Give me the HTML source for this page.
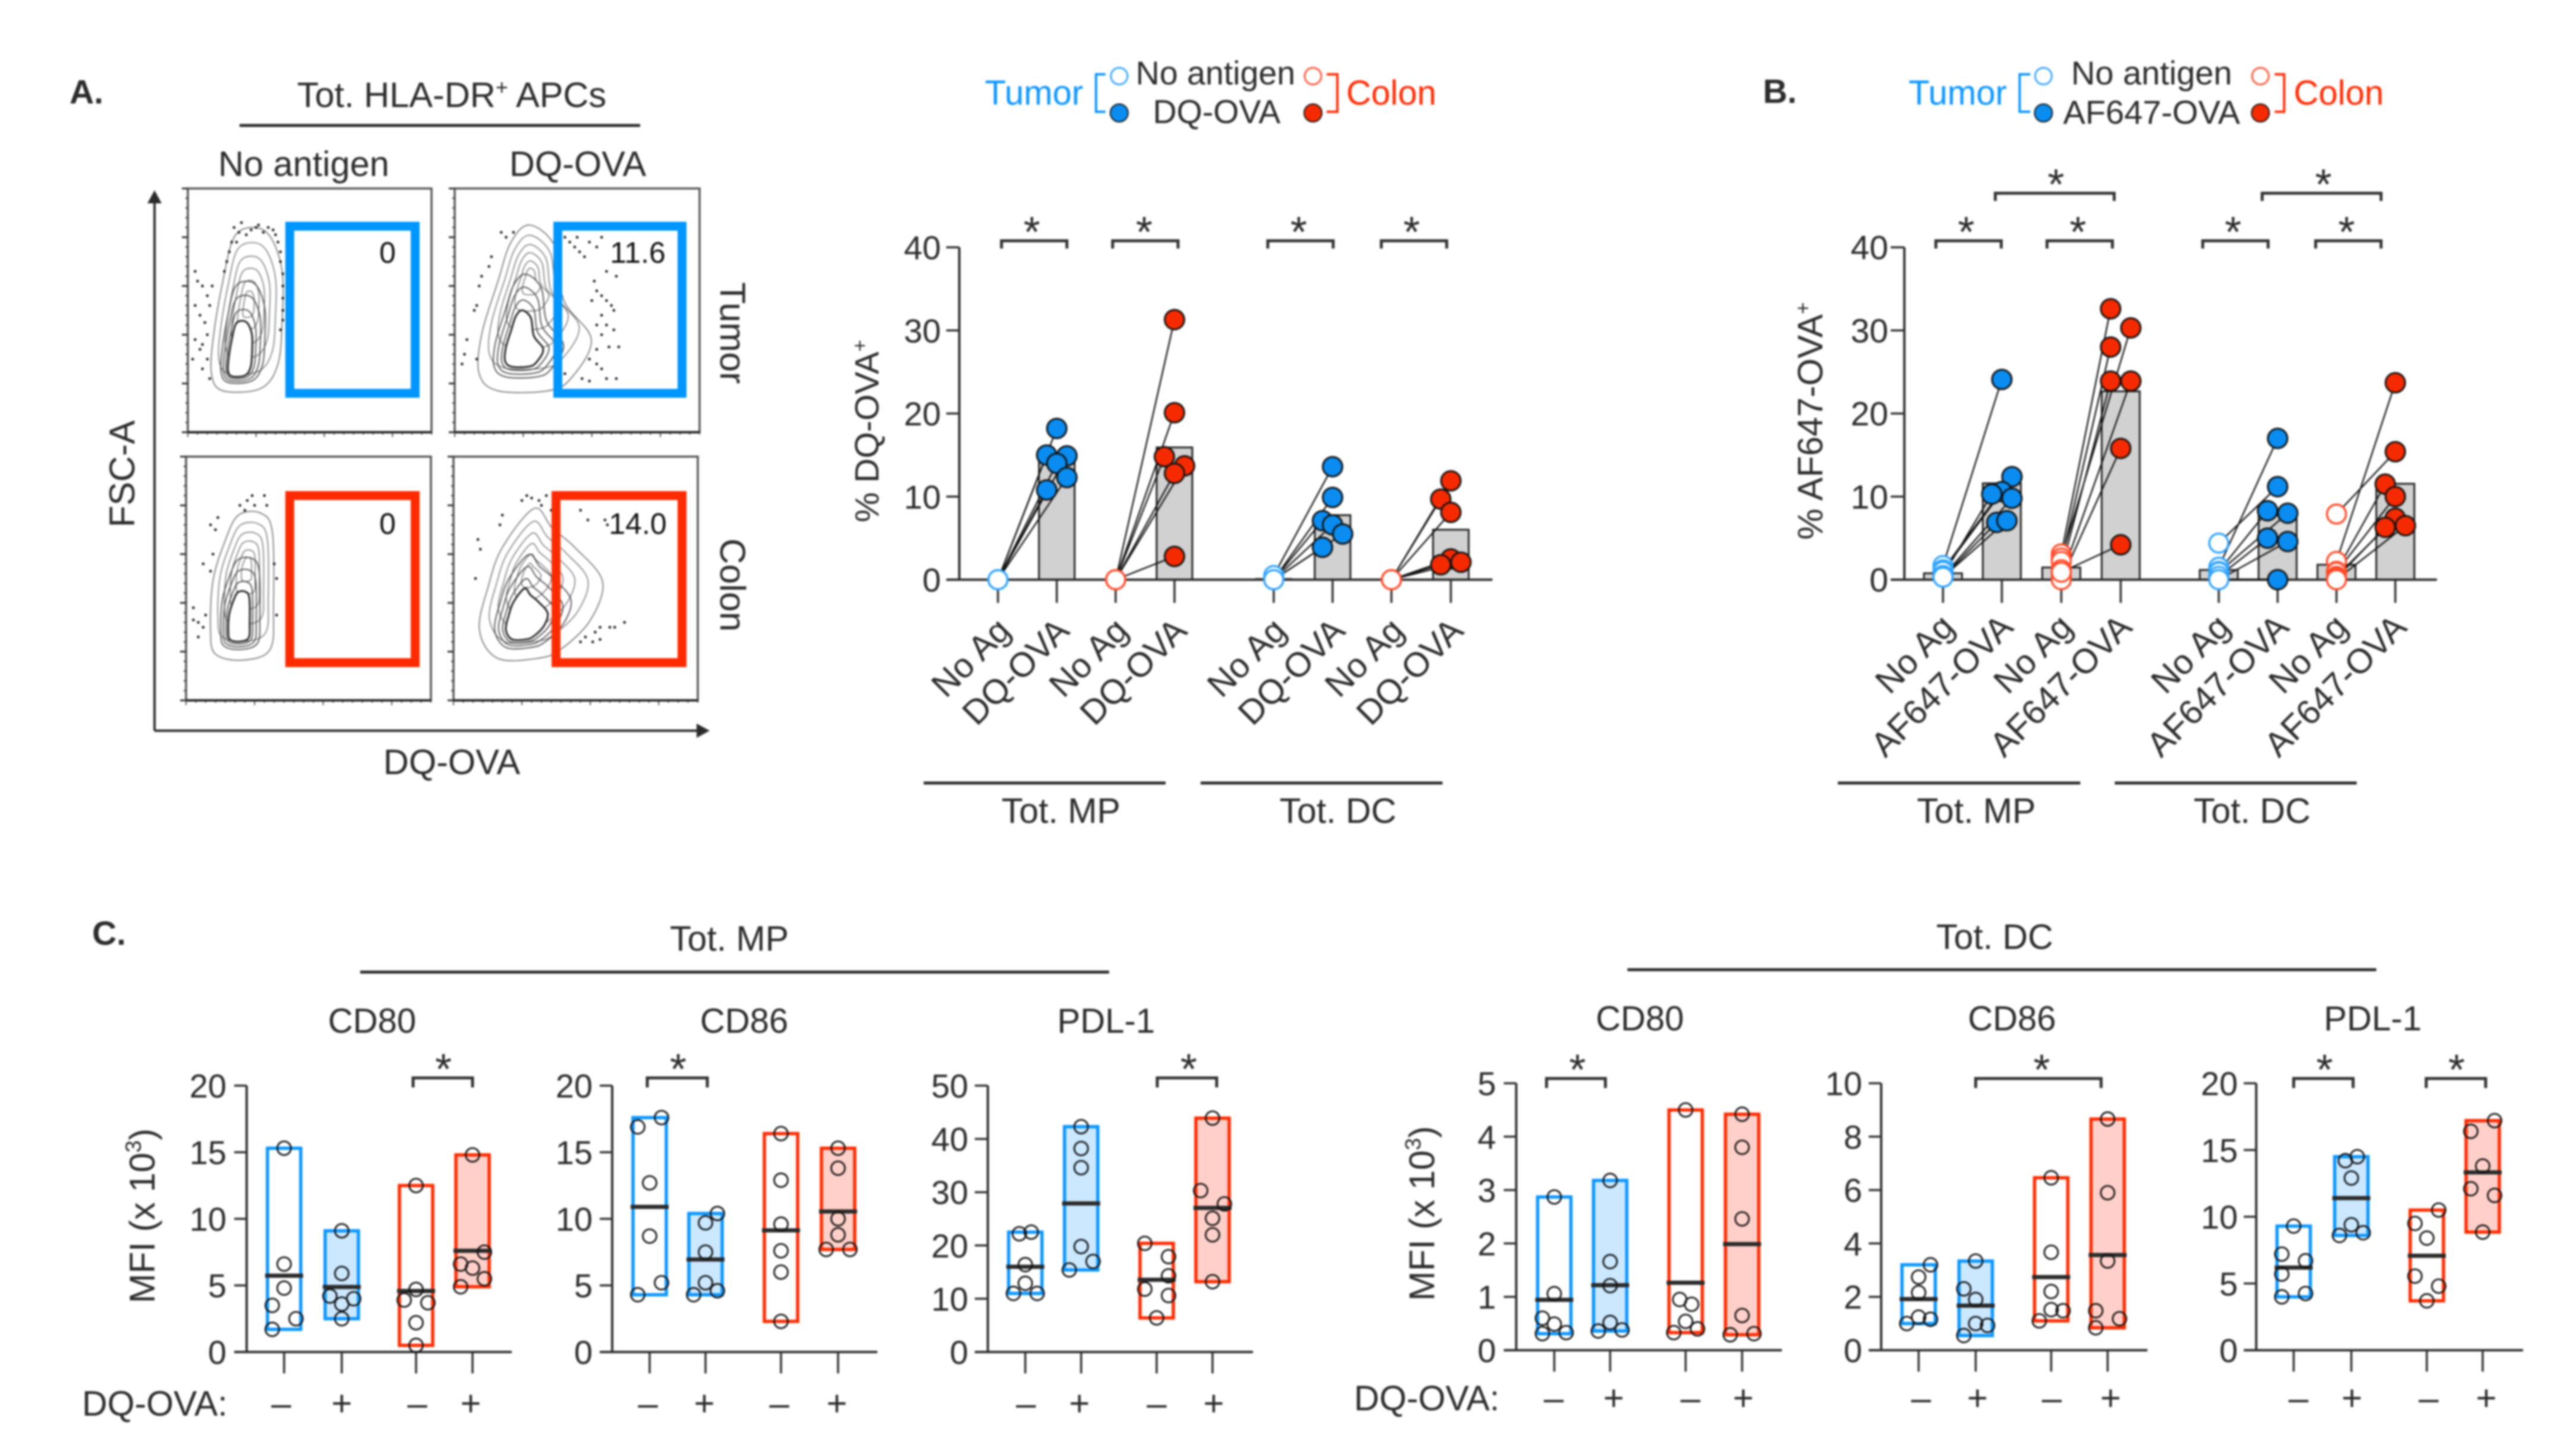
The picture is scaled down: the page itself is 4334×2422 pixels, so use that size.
<!DOCTYPE html>
<html lang="en">
<head>
<meta charset="utf-8">
<title>DQ-OVA and AF647-OVA uptake in tumor and colon APCs</title>
<style>
html,body{margin:0;padding:0;background:#fff;width:4334px;height:2422px;overflow:hidden}
svg{position:absolute;left:0;top:0;filter:blur(1.5px)}
text{font-family:"Liberation Sans",sans-serif;fill:#2b2b2b}
</style>
</head>
<body>
<svg id="figure" xmlns="http://www.w3.org/2000/svg" width="4334" height="2422" viewBox="0 0 4334 2422">
  <rect x="0" y="0" width="4334" height="2422" fill="#fff"/>

  <text x="117" y="174" font-size="57" font-weight="bold">A.</text>
  <text x="2966" y="173" font-size="57" font-weight="bold">B.</text>
  <text x="155" y="1589" font-size="57" font-weight="bold">C.</text>

  <text x="760" y="180" font-size="59.5" text-anchor="middle">Tot. HLA-DR<tspan font-size="36" dy="-21">+</tspan><tspan dy="21"> APCs</tspan></text>
  <line x1="403" y1="211" x2="1077" y2="211" stroke="#2b2b2b" stroke-width="5"/>
  <text x="511" y="296" font-size="59.5" text-anchor="middle">No antigen</text>
  <text x="972" y="296" font-size="59.5" text-anchor="middle">DQ-OVA</text>
  <text transform="translate(1212 560) rotate(90)" font-size="60" text-anchor="middle">Tumor</text>
  <text transform="translate(1212 984) rotate(90)" font-size="60" text-anchor="middle">Colon</text>
  <text transform="translate(226 797) rotate(-90)" font-size="60" text-anchor="middle">FSC-A</text>
  <text x="760" y="1302" font-size="59.5" text-anchor="middle">DQ-OVA</text>
  <path d="M260 1229V330" stroke="#2b2b2b" stroke-width="4" fill="none"/>
  <path d="M260 320L248 342H272Z" fill="#2b2b2b"/>
  <path d="M260 1229H1180" stroke="#2b2b2b" stroke-width="4" fill="none"/>
  <path d="M1194 1229L1172 1217V1241Z" fill="#2b2b2b"/>

  <g>
    <text x="1657" y="176" font-size="58" style="fill:#0a96ff">Tumor</text>
    <path d="M1860 125H1844V188H1860" fill="none" stroke="#0a96ff" stroke-width="4"/>
    <circle cx="1883" cy="128" r="14" fill="#fff" stroke="#3aa9ff" stroke-width="3"/>
    <circle cx="1883" cy="190" r="15" fill="#0a8cf0" stroke="#111" stroke-width="2"/>
    <text x="2045" y="142" font-size="55.5" text-anchor="middle">No antigen</text>
    <text x="2047" y="207" font-size="55.5" text-anchor="middle">DQ-OVA</text>
    <circle cx="2209" cy="128" r="14" fill="#fff" stroke="#ff5a3c" stroke-width="3"/>
    <circle cx="2209" cy="190" r="15" fill="#f52a00" stroke="#111" stroke-width="2"/>
    <path d="M2232 125H2250V188H2232" fill="none" stroke="#ff2a00" stroke-width="4"/>
    <text x="2265" y="176" font-size="58" style="fill:#ff2a00">Colon</text>
  </g>

  <g>
    <text x="3211" y="176" font-size="58" style="fill:#0a96ff">Tumor</text>
    <path d="M3416 125H3398V188H3416" fill="none" stroke="#0a96ff" stroke-width="4"/>
    <circle cx="3438" cy="128" r="14" fill="#fff" stroke="#3aa9ff" stroke-width="3"/>
    <circle cx="3438" cy="190" r="15" fill="#0a8cf0" stroke="#111" stroke-width="2"/>
    <text x="3620" y="142" font-size="56" text-anchor="middle">No antigen</text>
    <text x="3620" y="208" font-size="56" text-anchor="middle">AF647-OVA</text>
    <circle cx="3803" cy="128" r="14" fill="#fff" stroke="#ff5a3c" stroke-width="3"/>
    <circle cx="3803" cy="190" r="15" fill="#f52a00" stroke="#111" stroke-width="2"/>
    <path d="M3827 125H3843V188H3827" fill="none" stroke="#ff2a00" stroke-width="4"/>
    <text x="3859" y="176" font-size="58" style="fill:#ff2a00">Colon</text>
  </g>

  <text transform="translate(1478 725) rotate(-90)" font-size="57" text-anchor="middle">% DQ-OVA<tspan font-size="34" dy="-20">+</tspan></text>
  <text transform="translate(3066 708) rotate(-90)" font-size="59" text-anchor="middle">% AF647-OVA<tspan font-size="35" dy="-21">+</tspan></text>

  <line x1="1554" y1="1317" x2="1961" y2="1317" stroke="#2b2b2b" stroke-width="5"/>
  <line x1="2020" y1="1317" x2="2427" y2="1317" stroke="#2b2b2b" stroke-width="5"/>
  <text x="1785" y="1384" font-size="59" text-anchor="middle">Tot. MP</text>
  <text x="2251" y="1384" font-size="59" text-anchor="middle">Tot. DC</text>
  <line x1="3092" y1="1317" x2="3500" y2="1317" stroke="#2b2b2b" stroke-width="5"/>
  <line x1="3558" y1="1317" x2="3965" y2="1317" stroke="#2b2b2b" stroke-width="5"/>
  <text x="3325" y="1384" font-size="59" text-anchor="middle">Tot. MP</text>
  <text x="3789" y="1384" font-size="59" text-anchor="middle">Tot. DC</text>

  <text x="1227" y="1599" font-size="59" text-anchor="middle">Tot. MP</text>
  <line x1="606" y1="1635" x2="1866" y2="1635" stroke="#2b2b2b" stroke-width="5"/>
  <text x="3356" y="1596" font-size="59" text-anchor="middle">Tot. DC</text>
  <line x1="2738" y1="1631" x2="3998" y2="1631" stroke="#2b2b2b" stroke-width="5"/>
  <text transform="translate(260 2045) rotate(-90)" font-size="60" text-anchor="middle">MFI (x 10<tspan font-size="37" dy="-23">3</tspan><tspan dy="23">)</tspan></text>
  <text transform="translate(2413 2041) rotate(-90)" font-size="60" text-anchor="middle">MFI (x 10<tspan font-size="37" dy="-23">3</tspan><tspan dy="23">)</tspan></text>
  <text x="138" y="2381" font-size="59">DQ-OVA:</text>
  <text x="2278" y="2372" font-size="59">DQ-OVA:</text>
</svg>

<script>
/* ---------- Flow cytometry contour data (percent of plot width / height) ---------- */
const flowTumorNoAgOutline = [[19,80],[27,84],[34,80],[38.7,66],[38.7,46],[37,28],[30,18],[14.4,17],[9.7,24],[10.6,40],[14.4,62]];
const flowTumorNoAgPeaks = [[25,53],[20,26]];
const flowTumorNoAgDots = [[19,84],[21,82],[22,86],[24,81],[26,83],[28,84],[29,85],[31,82],[33,84],[35,83],[36,81],[37,78],[38,74],[38,70],[39,65],[39,60],[39,55],[39,50],[39,46],[38,42],[18,78],[17,74],[20,78],[16,70],[15,66],[3,66],[4,62],[6,60],[8,56],[9,52],[3,52],[5,48],[7,45],[8,40],[3,38],[6,36],[5,34],[8,30],[2,30],[6,26],[9,22],[10,60]];
const flowTumorAgOutline = [[30.7,85],[41,76],[44.6,54],[55.8,38],[47.4,22],[38,17],[17.7,17],[10,24],[11,40],[17.7,62],[23,78]];
const flowTumorAgPeaks = [[31,64],[26,32]];
const flowTumorAgDots = [[45,80],[47,78],[49,76],[50,80],[51,74],[53,72],[55,78],[58,76],[60,80],[62,66],[66,64],[57,62],[58,58],[60,56],[56,54],[62,54],[64,52],[65,50],[60,48],[58,44],[62,44],[65,42],[60,40],[63,35],[58,34],[67,35],[55,30],[58,28],[60,26],[52,22],[55,21],[62,22],[45,24],[66,22],[14,68],[11,64],[9,52],[8,50],[5,38],[4,32],[9,30],[3,28],[15,72],[19,82],[21,80],[24,82],[10,60]];
const flowColonNoAgOutline = [[30.7,76.7],[35.3,68.7],[35.7,38.8],[34.4,21],[23.2,16.5],[12,19],[10,29],[11,49],[15.8,65],[21.4,76]];
const flowColonNoAgPeaks = [[25,55],[21,28]];
const flowColonNoAgDots = [[22,80],[25,82],[27,84],[28,80],[32,84],[33,80],[24,78],[13,75],[10,72],[12,70],[7,56],[11,60],[10,53],[3,38],[5,32],[7,30],[8,35],[36,56],[37,50],[37,35],[5,26],[3,33]];
const flowColonAgOutline = [[33,78.7],[40.4,70.7],[49.7,62.7],[61,48.8],[56,32.9],[44,21],[34.8,17.3],[18,17.3],[10.6,29],[14.3,47],[20,62.7]];
const flowColonAgPeaks = [[31,52],[27,29]];
const flowColonAgDots = [[28,82],[30,84],[32,83],[35,82],[36,80],[38,84],[40,78],[43,76],[52,78],[55,74],[62,74],[63,72],[20,76],[19,72],[10,66],[11,62],[9,50],[64,30],[66,30],[60,30],[58,28],[54,26],[52,24],[57,24],[60,25],[70,32]];
const flowGateValues = ['0','11.6','0','14.0'];

/* ---------- Panel A: % DQ-OVA+ ---------- */
const dqTicks = [0,10,20,30,40];
const dqCategories = ['No Ag','DQ-OVA','No Ag','DQ-OVA','No Ag','DQ-OVA','No Ag','DQ-OVA'];
const dqMpTumorNoAg = [0,0,0,0,0,0];
const dqMpTumorAg = [18.2,15.0,14.9,14.0,12.3,10.8];
const dqMpTumorSlots = [0,-1,1,0,1,-1];
const dqMpColonNoAg = [0,0,0,0,0,0];
const dqMpColonAg = [31.3,20.1,14.8,13.7,12.8,2.8];
const dqMpColonSlots = [0,0,-1,1,0,0];
const dqDcTumorNoAg = [0.5,0,0,0,0,0];
const dqDcTumorAg = [13.6,9.9,7.1,6.6,5.5,3.9];
const dqDcTumorSlots = [0,0,-1,0,1,-1];
const dqDcColonNoAg = [0,0,0,0,0,0];
const dqDcColonAg = [11.9,9.7,8.1,2.5,1.8,2.1];
const dqDcColonSlots = [0,-1,0,0,-1,1];

/* ---------- Panel B: % AF647-OVA+ ---------- */
const afTicks = [0,10,20,30,40];
const afCategories = ['No Ag','AF647-OVA','No Ag','AF647-OVA','No Ag','AF647-OVA','No Ag','AF647-OVA'];
const afMpTumorNoAg = [1.7,1.2,1.0,0.5,0.4,0.3,0.3];
const afMpTumorAg = [24.1,12.4,10.6,10.3,9.8,6.9,7.1];
const afMpTumorSlots = [0,1,0,-1,1,-0.5,0.5];
const afMpColonNoAg = [3.1,2.6,2.2,1.2,0.3,0,0.9];
const afMpColonAg = [32.6,30.3,28.0,23.9,23.9,15.8,4.2];
const afMpColonSlots = [-1,1,-1,-1,1,0,0];
const afDcTumorNoAg = [1.5,4.4,1.0,0.9,0.4,0,0];
const afDcTumorAg = [17.0,11.2,8.3,8.0,5.0,4.6,0];
const afDcTumorSlots = [0,0,-1,1,-1,1,0];
const afDcColonNoAg = [2.2,7.9,1.0,0.9,0.4,0.2,0];
const afDcColonAg = [23.7,15.4,11.5,10.0,7.4,6.3,6.5];
const afDcColonSlots = [0,0,-1,0,0,-1,1];

/* ---------- Panel C: MFI (x 10^3) ---------- */
const signLabels = ['\u2013','+','\u2013','+'];
const mpCd80Ticks = [0,5,10,15,20];
const mpCd86Ticks = [0,5,10,15,20];
const mpPdl1Ticks = [0,10,20,30,40,50];
const dcCd80Ticks = [0,1,2,3,4,5];
const dcCd86Ticks = [0,2,4,6,8,10];
const dcPdl1Ticks = [0,5,10,15,20];

const mpCd80Values = [[15.3,6.6,4.8,3.5,2.5,1.7],[9.1,5.9,4.2,4.0,3.6,2.5],[12.5,4.7,3.9,3.7,2.2,0.5],[14.8,7.5,6.6,6.3,5.5,4.9]];
const mpCd80Slots = [[0,0,0,-1,1,-1],[0,0,-1,1,0,0],[0,0,-1,1,0,0],[0,1,-1,0,1,-1]];
const mpCd86Values = [[17.6,16.9,12.7,8.7,5.2,4.3],[10.4,9.7,7.5,5.2,4.3,4.6],[16.4,12.9,9.6,7.6,6.0,2.3],[15.3,13.8,10.0,8.8,7.7,7.7]];
const mpCd86Slots = [[1,-1,0,0,1,-1],[1,0,0,0,-1,1],[0,0,0,0,0,0],[0,0,0,0,-1,1]];
const mpPdl1Values = [[22.2,22.5,16.4,12.9,11.0,11.0],[42.3,38.2,34.6,19.8,17.0,15.4],[20.4,17.9,14.3,11.8,10.6,6.4],[43.9,30.3,27.8,25.1,22.0,13.2]];
const mpPdl1Slots = [[-0.5,0.5,0,0,-1,1],[0,0,0,0,1,-1],[-1,1,1,-1,1,0],[0,-1,1,0,0,0]];
const dcCd80Values = [[2.87,1.06,0.6,0.49,0.31,0.33],[3.18,1.66,1.21,0.52,0.36,0.38],[4.5,0.95,0.86,0.54,0.4,0.33],[4.42,3.8,2.46,0.65,0.29,0.31]];
const dcCd80Slots = [[0,0,-1,0,-1,1],[0,0,0,0,-1,1],[0,-0.5,0.5,0,1,-1],[0,0,0,0,-1,1]];
const dcCd86Values = [[3.2,2.74,2.16,1.24,1.16,1.0],[3.34,2.3,1.9,1.0,0.93,0.55],[6.46,3.67,2.2,1.52,1.48,1.1],[8.66,5.9,3.34,1.48,1.18,0.84]];
const dcCd86Slots = [[1,0,0,0,1,-1],[0,-1,0,0,1,-1],[0,0,0,0,1,-1],[0,0,0,-1,1,-1]];
const dcPdl1Values = [[9.3,7.2,6.7,5.7,4.25,4.0],[14.5,14.2,12.9,9.4,8.8,8.6],[10.5,9.5,8.4,5.55,4.8,3.7],[17.2,16.4,13.8,12.1,11.6,8.85]];
const dcPdl1Slots = [[0,-1,1,-1,1,-1],[0.5,-0.5,0,0,1,-1],[1,-1,0,-1,1,0],[1,-1,0,-1,1,0]];

/* ---------- Helpers ---------- */
const NS = 'http://www.w3.org/2000/svg';
const root = document.getElementById('figure');
const INK = '#2f2f2f';
const BLUE = '#0a96ff';
const RED = '#ff2a00';
const BLUE_POINT = '#0a8cf0';
const RED_POINT = '#f52a00';

function mk(tag, parent, attrs) {
  const n = document.createElementNS(NS, tag);
  for (const k in attrs) n.setAttribute(k, attrs[k]);
  parent.appendChild(n);
  return n;
}
function mean(a) { return a.reduce((s, v) => s + v, 0) / a.length; }

/* ---------- Flow plots ---------- */
function ringPath(outline, peak, scale, sx, sy) {
  const p = outline.map(q => [sx(peak[0] + scale * (q[0] - peak[0])), sy(peak[1] + scale * (q[1] - peak[1]))]);
  const n = p.length;
  let d = 'M' + p[0][0].toFixed(1) + ' ' + p[0][1].toFixed(1);
  for (let i = 0; i < n; i++) {
    const a = p[(i - 1 + n) % n], b = p[i], c = p[(i + 1) % n], e = p[(i + 2) % n];
    d += 'C' + (b[0] + (c[0] - a[0]) / 6).toFixed(1) + ' ' + (b[1] + (c[1] - a[1]) / 6).toFixed(1) + ' ' +
      (c[0] - (e[0] - b[0]) / 6).toFixed(1) + ' ' + (c[1] - (e[1] - b[1]) / 6).toFixed(1) + ' ' +
      c[0].toFixed(1) + ' ' + c[1].toFixed(1);
  }
  return d + 'Z';
}

function flowPlot(cfg) {
  const g = mk('g', root, {});
  
  
  const w = cfg.x1 - cfg.x0, h = cfg.y1 - cfg.y0;
  const sx = v => cfg.x0 + v / 100 * w;
  const sy = v => cfg.y1 - v / 100 * h;

  const frame = mk('rect', g, {x: cfg.x0, y: cfg.y0, width: w, height: h, fill: '#fff', stroke: '#555', 'stroke-width': 3.5});
  
  

  for (let t = 0; t <= 100; t += 4) {
    const major = t % 20 === 0;
    const yt = mk('line', g, {x1: cfg.x0 - (major ? 10 : 4), x2: cfg.x0, y1: sy(t), y2: sy(t), stroke: '#333', 'stroke-width': major ? 3 : 2});
    
    
    const xt = mk('line', g, {y1: cfg.y1, y2: cfg.y1 + (t % 28 === 0 ? 8 : 4), x1: sx(t), x2: sx(t), stroke: '#555', 'stroke-width': 2});
    
    
  }
  const baseAxis = mk('line', g, {x1: cfg.x0, x2: cfg.x1, y1: cfg.y1, y2: cfg.y1, stroke: '#222', 'stroke-width': 4});
  
  

  const outer = mk('path', g, {d: ringPath(cfg.outline, cfg.peaks[0], 1, sx, sy), fill: 'none', stroke: '#666', 'stroke-width': 1.6});
  
  
  [0.8,0.62,0.46,0.3,0.16].forEach(s => {
    const r = mk('path', g, {d: ringPath(cfg.outline, cfg.peaks[0], s, sx, sy), fill: 'none', stroke: '#777', 'stroke-width': 1.6});
    
    
  });
  [0.62,0.52,0.42].forEach(s => {
    const r = mk('path', g, {d: ringPath(cfg.outline, cfg.peaks[1], s, sx, sy), fill: 'none', stroke: '#444', 'stroke-width': 1.8});
    
    
  });
  const core = mk('path', g, {d: ringPath(cfg.outline, cfg.peaks[1], 0.34, sx, sy), fill: '#fff', stroke: '#222', 'stroke-width': 3});
  
  
  cfg.dots.forEach(d => {
    const c = mk('rect', g, {x: sx(d[0]) - 2, y: sy(d[1]) - 2, width: 4, height: 4, fill: '#111'});
    
    
  });
  const gate = mk('rect', g, {x: cfg.gx0 + 7.5, y: cfg.gy0 + 7.5, width: cfg.gx1 - cfg.gx0 - 15, height: cfg.gy1 - cfg.gy0 - 15, fill: 'none', stroke: cfg.color, 'stroke-width': 15});
  
  
  const pct = mk('text', g, {x: cfg.textX, y: cfg.textY, 'font-size': 50, 'text-anchor': 'middle', style: 'fill:#111'});
  pct.textContent = cfg.value;
  
  
}

flowPlot({name:'tumor-no-antigen', x0:316, y0:317, x1:726, y1:727, gx0:480, gy0:373, gx1:706, gy1:669, color:'#0096ff', textX:652, textY:442, value:flowGateValues[0], outline:flowTumorNoAgOutline, peaks:flowTumorNoAgPeaks, dots:flowTumorNoAgDots});
flowPlot({name:'tumor-dq-ova', x0:765, y0:317, x1:1177, y1:727, gx0:931, gy0:373, gx1:1155, gy1:669, color:'#0096ff', textX:1073, textY:442, value:flowGateValues[1], outline:flowTumorAgOutline, peaks:flowTumorAgPeaks, dots:flowTumorAgDots});
flowPlot({name:'colon-no-antigen', x0:313, y0:768, x1:725, y1:1178, gx0:480, gy0:826, gx1:706, gy1:1122, color:'#ff2a00', textX:652, textY:898, value:flowGateValues[2], outline:flowColonNoAgOutline, peaks:flowColonNoAgPeaks, dots:flowColonNoAgDots});
flowPlot({name:'colon-dq-ova', x0:763, y0:768, x1:1174, y1:1178, gx0:928, gy0:826, gx1:1155, gy1:1122, color:'#ff2a00', textX:1073, textY:898, value:flowGateValues[3], outline:flowColonAgOutline, peaks:flowColonAgPeaks, dots:flowColonAgDots});

/* ---------- Shared axis and bracket drawing ---------- */
function drawBracket(parent, x1, x2, y, legs, starX, starBaseline) {
  const b = mk('path', parent, {d: 'M' + x1 + ' ' + (y + legs) + 'V' + y + 'H' + x2 + 'V' + (y + legs), fill: 'none', stroke: '#333', 'stroke-width': 5});
  
  
  const s = mk('text', parent, {x: starX, y: starBaseline, 'font-size': 72, 'text-anchor': 'middle'});
  s.textContent = '*';
  
  
}

function drawYAxis(parent, cfg, ticks, yScale) {
  const axis = mk('line', parent, {x1: cfg.axisX, x2: cfg.axisX, y1: yScale(ticks[ticks.length - 1]), y2: yScale(0), stroke: INK, 'stroke-width': 4});
  
  
  ticks.forEach(t => {
    const m = mk('line', parent, {x1: cfg.tickStart, x2: cfg.axisX, y1: yScale(t), y2: yScale(t), stroke: INK, 'stroke-width': 3.5});
    
    
    const l = mk('text', parent, {x: cfg.labelRight, y: yScale(t) + 20, 'font-size': cfg.tickFont, 'text-anchor': 'end'});
    l.textContent = String(t);
    
    
  });
  const base = mk('line', parent, {x1: cfg.tickStart, x2: cfg.axisEnd, y1: yScale(0), y2: yScale(0), stroke: INK, 'stroke-width': 4});
  
  
}

/* ---------- Paired bar charts (panels A, B) ---------- */
function pairedChart(cfg, ticks, categories, groups) {
  const g = mk('g', root, {});
  
  
  const yMax = ticks[ticks.length - 1];
  const y = v => cfg.zeroY - v / yMax * (cfg.zeroY - cfg.topY);

  groups.forEach((grp, i) => {
    const xA = cfg.catX[i * 2], xB = cfg.catX[i * 2 + 1];
    [[xA, grp.noAg], [xB, grp.ag]].forEach(pair => {
      const top = y(mean(pair[1]));
      const bar = mk('rect', g, {x: pair[0] - cfg.barW / 2, y: top, width: cfg.barW, height: cfg.zeroY - top, fill: '#d1d1d1', stroke: '#222', 'stroke-width': 3});
      
      
    });
  });
  drawYAxis(g, cfg, ticks, y);
  cfg.catX.forEach((x, i) => {
    const t = mk('line', g, {x1: x, x2: x, y1: cfg.zeroY, y2: cfg.zeroY + 39, stroke: INK, 'stroke-width': 3.5});
    
    
    const lx = x + cfg.labelDx, ly = cfg.labelY;
    const l = mk('text', g, {x: lx, y: ly, 'font-size': 58, 'text-anchor': 'end', transform: 'rotate(-45 ' + lx + ' ' + ly + ')'});
    l.textContent = categories[i];
    
    
  });
  groups.forEach((grp, i) => {
    const xA = cfg.catX[i * 2], xB = cfg.catX[i * 2 + 1];
    grp.ag.forEach((v, k) => {
      const ln = mk('line', g, {x1: xA, y1: y(grp.noAg[k]), x2: xB + grp.slots[k] * cfg.slotPx, y2: y(v), stroke: '#111', 'stroke-width': 2.4});
      
      
    });
  });
  groups.forEach((grp, i) => {
    const xA = cfg.catX[i * 2], xB = cfg.catX[i * 2 + 1];
    const isTumor = i % 2 === 0;
    grp.noAg.forEach(v => {
      const c = mk('circle', g, {cx: xA, cy: y(v), r: 16, fill: '#fff', stroke: isTumor ? '#2ea4ff' : '#ff4a28', 'stroke-width': 3.5});
      
      
    });
    grp.ag.forEach((v, k) => {
      const c = mk('circle', g, {cx: xB + grp.slots[k] * cfg.slotPx, cy: y(v), r: 16.5, fill: isTumor ? BLUE_POINT : RED_POINT, stroke: '#111', 'stroke-width': 3});
      
      
    });
  });
  cfg.brackets.forEach(b => drawBracket(g, b[0], b[1], b[2], 13, b[3], b[4]));
}

pairedChart({
  name:'dq-ova-chart', axisX:1614, axisEnd:2511, tickStart:1592, labelRight:1583, tickFont:56, zeroY:975, topY:416,
  catX:[1679,1778,1877,1976,2143,2242,2341,2441], barW:60, slotPx:17, labelDx:24, labelY:1064,
  brackets:[[1685,1795,405,1736,415],[1872,1982,405,1925,415],[2133,2243,405,2185,415],[2324,2434,405,2375,415]]
}, dqTicks, dqCategories, [
  {noAg:dqMpTumorNoAg, ag:dqMpTumorAg, slots:dqMpTumorSlots},
  {noAg:dqMpColonNoAg, ag:dqMpColonAg, slots:dqMpColonSlots},
  {noAg:dqDcTumorNoAg, ag:dqDcTumorAg, slots:dqDcTumorSlots},
  {noAg:dqDcColonNoAg, ag:dqDcColonAg, slots:dqDcColonSlots}
]);

pairedChart({
  name:'af647-ova-chart', axisX:3204, axisEnd:4100, tickStart:3181, labelRight:3177, tickFont:57, zeroY:975, topY:416,
  catX:[3269,3368,3468,3568,3733,3832,3931,4030], barW:64, slotPx:17, labelDx:22, labelY:1058,
  brackets:[[3257,3367,405,3308,415],[3444,3554,405,3496,415],[3706,3816,405,3757,415],[3896,4006,405,3948,415],[3357,3557,325,3459,335],[3806,4006,325,3909,335]]
}, afTicks, afCategories, [
  {noAg:afMpTumorNoAg, ag:afMpTumorAg, slots:afMpTumorSlots},
  {noAg:afMpColonNoAg, ag:afMpColonAg, slots:afMpColonSlots},
  {noAg:afDcTumorNoAg, ag:afDcTumorAg, slots:afDcTumorSlots},
  {noAg:afDcColonNoAg, ag:afDcColonAg, slots:afDcColonSlots}
]);

/* ---------- Floating min-max bar charts (panel C) ---------- */
function mfiChart(cfg, ticks, values, slots) {
  const g = mk('g', root, {});
  
  
  const yMax = ticks[ticks.length - 1];
  const y = v => cfg.zeroY - v / yMax * (cfg.zeroY - cfg.topY);

  const title = mk('text', g, {x: cfg.titleX, y: cfg.titleY, 'font-size': 58, 'text-anchor': 'middle'});
  title.textContent = cfg.title;
  
  

  drawYAxis(g, cfg, ticks, y);

  cfg.catX.forEach((x, i) => {
    const t = mk('line', g, {x1: x, x2: x, y1: cfg.zeroY, y2: cfg.zeroY + 36, stroke: INK, 'stroke-width': 3.5});
    
    
    const s = mk('text', g, {x: cfg.signX[i], y: cfg.signY, 'font-size': 60, 'text-anchor': 'middle'});
    s.textContent = signLabels[i];
    
    

    const color = i < 2 ? BLUE : RED;
    const fill = i % 2 === 0 ? '#ffffff' : (i < 2 ? '#cbe8ff' : '#ffd0c9');
    const hi = Math.max.apply(null, values[i]);
    const lo = Math.min.apply(null, values[i]);
    const box = mk('rect', g, {x: x - 28, y: y(hi), width: 56, height: y(lo) - y(hi), fill: fill, stroke: color, 'stroke-width': 5.5});
    
    
    const m = mk('line', g, {x1: x - 32, x2: x + 32, y1: y(mean(values[i])), y2: y(mean(values[i])), stroke: '#2a2a2a', 'stroke-width': 7});
    
    
    values[i].forEach((v, k) => {
      const c = mk('circle', g, {cx: x + slots[i][k] * 20, cy: y(v), r: 11.5, fill: 'none', stroke: '#111', 'stroke-width': 2.8});
      
      
    });
  });
  cfg.brackets.forEach(b => drawBracket(g, b[0], b[1], cfg.bracketY, 16, b[2], cfg.bracketY + 10));
}

mfiChart({name:'mp-cd80-chart', title:'CD80', titleX:626, titleY:1737, axisX:415, axisEnd:861, tickStart:394, labelRight:381, tickFont:56, zeroY:2274, topY:1826, catX:[478,575,700,795], signX:[473,575,702,792], signY:2381, bracketY:1813, brackets:[[695,795,746]]}, mpCd80Ticks, mpCd80Values, mpCd80Slots);
mfiChart({name:'mp-cd86-chart', title:'CD86', titleX:1252, titleY:1737, axisX:1030, axisEnd:1476, tickStart:1009, labelRight:997, tickFont:56, zeroY:2274, topY:1826, catX:[1093,1187,1314,1410], signX:[1090,1185,1311,1408], signY:2381, bracketY:1813, brackets:[[1089,1190,1141]]}, mpCd86Ticks, mpCd86Values, mpCd86Slots);
mfiChart({name:'mp-pdl1-chart', title:'PDL-1', titleX:1861, titleY:1737, axisX:1662, axisEnd:2108, tickStart:1640, labelRight:1629, tickFont:56, zeroY:2274, topY:1826, catX:[1725,1819,1946,2040], signX:[1726,1816,1946,2042], signY:2381, bracketY:1813, brackets:[[1947,2047,2000]]}, mpPdl1Ticks, mpPdl1Values, mpPdl1Slots);
mfiChart({name:'dc-cd80-chart', title:'CD80', titleX:2759, titleY:1733, axisX:2551, axisEnd:2998, tickStart:2530, labelRight:2517, tickFont:56, zeroY:2271, topY:1822, catX:[2615,2709,2836,2931], signX:[2614,2715,2844,2933], signY:2372, bracketY:1814, brackets:[[2602,2701,2654]]}, dcCd80Ticks, dcCd80Values, dcCd80Slots);
mfiChart({name:'dc-cd86-chart', title:'CD86', titleX:3385, titleY:1733, axisX:3165, axisEnd:3613, tickStart:3144, labelRight:3133, tickFont:56, zeroY:2271, topY:1822, catX:[3228,3324,3451,3546], signX:[3232,3327,3452,3551], signY:2372, bracketY:1814, brackets:[[3324,3535,3435]]}, dcCd86Ticks, dcCd86Values, dcCd86Slots);
mfiChart({name:'dc-pdl1-chart', title:'PDL-1', titleX:3992, titleY:1733, axisX:3796, axisEnd:4245, tickStart:3775, labelRight:3765, tickFont:56, zeroY:2271, topY:1822, catX:[3859,3956,4083,4177], signX:[3867,3957,4086,4183], signY:2372, bracketY:1814, brackets:[[3859,3959,3911],[4082,4182,4133]]}, dcPdl1Ticks, dcPdl1Values, dcPdl1Slots);
</script>
</body>
</html>
